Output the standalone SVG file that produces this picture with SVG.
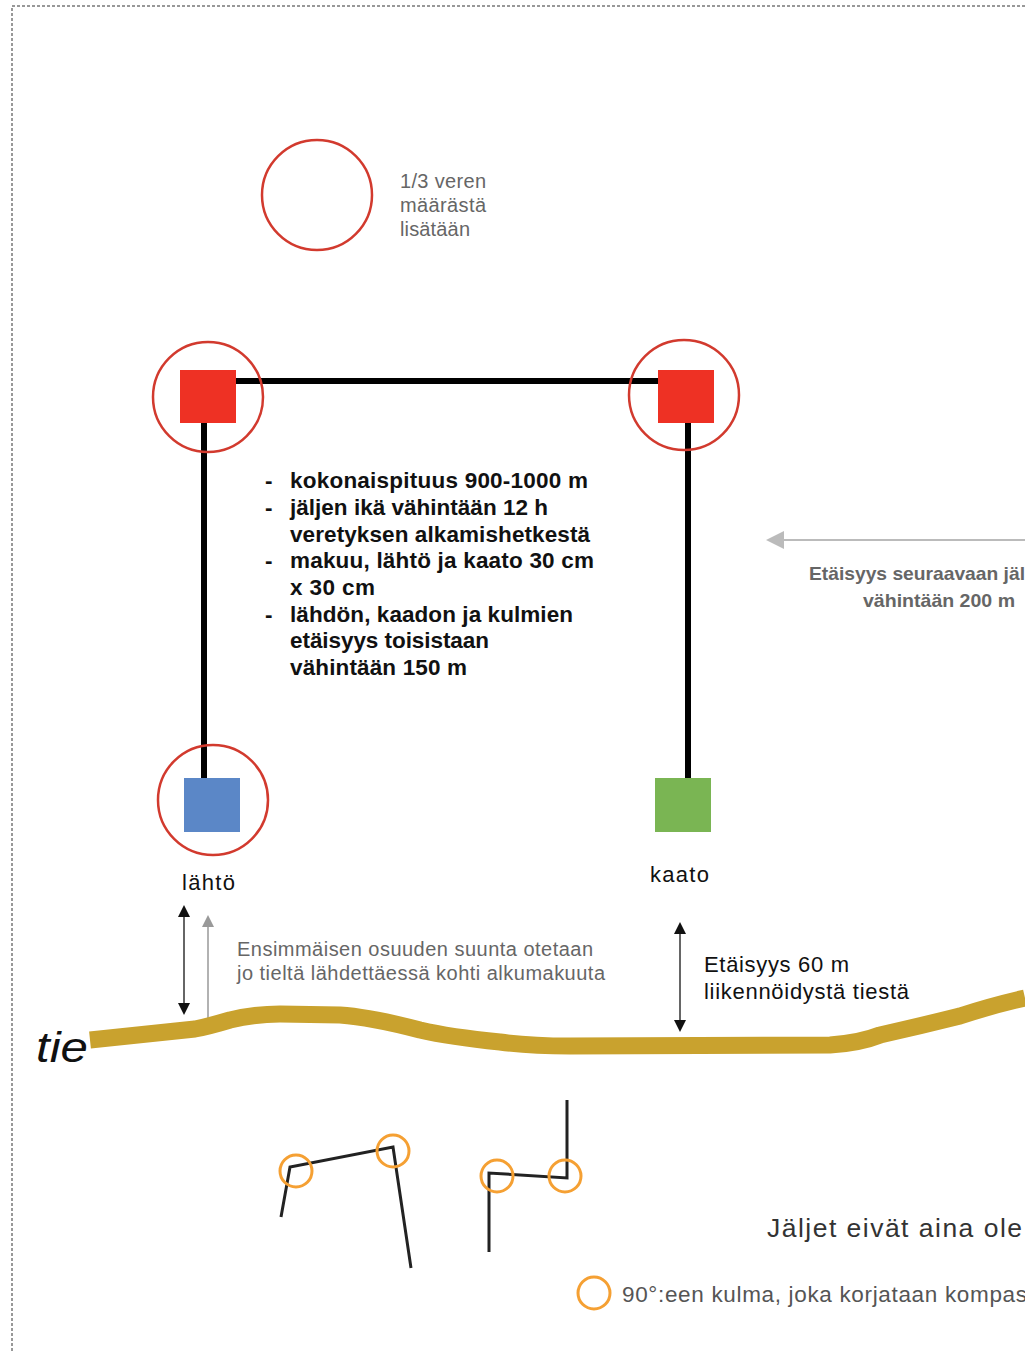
<svg xmlns="http://www.w3.org/2000/svg" width="1025" height="1351" viewBox="0 0 1025 1351">
<style>
.ring{fill:none;stroke:#d23a2e;stroke-width:2.5}
.oring{fill:none;stroke:#f5a033;stroke-width:3}
.trk{fill:none;stroke:#000;stroke-width:6}
.thin{fill:none;stroke:#222;stroke-width:3;stroke-linejoin:miter}
.b{font-family:"Liberation Sans",Arial,sans-serif;font-size:22.5px;font-weight:bold;fill:#111}
.g{font-family:"Liberation Sans",Arial,sans-serif;font-size:20px;fill:#666}
.n{font-family:"Liberation Sans",Arial,sans-serif;font-size:22px;fill:#111}
</style>
<defs>
<marker id="ah" viewBox="0 0 10 10" refX="5" refY="5" markerWidth="8" markerHeight="8" orient="auto-start-reverse"><path d="M0,0L10,5L0,10z" fill="#111"/></marker>
<marker id="ahg" viewBox="0 0 10 10" refX="5" refY="5" markerWidth="8" markerHeight="8" orient="auto-start-reverse"><path d="M0,0L10,5L0,10z" fill="#999"/></marker>
<marker id="ahl" viewBox="0 0 10 10" refX="5" refY="5" markerWidth="9" markerHeight="9" orient="auto-start-reverse"><path d="M0,0L10,5L0,10z" fill="#bbb"/></marker>
</defs>
<rect x="12" y="6" width="1100" height="1400" fill="none" stroke="#333" stroke-width="1" stroke-dasharray="3,2"/>

<g id="blood-circle">
<circle cx="317" cy="195" r="55" class="ring"/>
<text class="g" x="400" y="188" textLength="86">1/3 veren</text>
<text class="g" x="400" y="212" textLength="86">määrästä</text>
<text class="g" x="400" y="236" textLength="70">lisätään</text>
</g>

<g id="connectors">
<line class="trk" x1="236" y1="381" x2="658" y2="381"/>
<line class="trk" x1="204" y1="423" x2="204" y2="778"/>
<line class="trk" x1="688" y1="423" x2="688" y2="778"/>
<line x1="184" y1="911" x2="184" y2="1009" stroke="#333" stroke-width="1.5" marker-start="url(#ah)" marker-end="url(#ah)"/>
<line x1="208" y1="921" x2="208" y2="1022" stroke="#999" stroke-width="1.5" marker-start="url(#ahg)"/>
<line x1="680" y1="928" x2="680" y2="1026" stroke="#333" stroke-width="1.5" marker-start="url(#ah)" marker-end="url(#ah)"/>
<line x1="775" y1="540" x2="1025" y2="540" stroke="#bbb" stroke-width="2" marker-start="url(#ahl)"/>
</g>

<g id="corner-left">
<circle cx="208" cy="397" r="55" class="ring"/>
<rect x="180" y="370" width="56" height="53" fill="#ee3124"/>
</g>
<g id="corner-right">
<circle cx="684" cy="395" r="55" class="ring"/>
<rect x="658" y="370" width="56" height="53" fill="#ee3124"/>
</g>
<g id="start">
<circle cx="213" cy="800" r="55" class="ring"/>
<rect x="184" y="778" width="56" height="54" fill="#5b87c7"/>
<text class="n" x="182" y="890" textLength="53">lähtö</text>
</g>
<g id="end">
<rect x="655" y="778" width="56" height="54" fill="#7ab553"/>
<text class="n" x="650" y="882" textLength="59">kaato</text>
</g>

<g id="rules">
<text class="b" x="265" y="488">-</text><text class="b" x="290" y="488" textLength="298">kokonaispituus 900-1000 m</text>
<text class="b" x="265" y="515">-</text><text class="b" x="290" y="515" textLength="258">jäljen ikä vähintään 12 h</text>
<text class="b" x="290" y="542" textLength="300">veretyksen alkamishetkestä</text>
<text class="b" x="265" y="568">-</text><text class="b" x="290" y="568" textLength="304">makuu, lähtö ja kaato 30 cm</text>
<text class="b" x="290" y="595" textLength="85">x 30 cm</text>
<text class="b" x="265" y="622">-</text><text class="b" x="290" y="622" textLength="283">lähdön, kaadon ja kulmien</text>
<text class="b" x="290" y="648" textLength="199">etäisyys toisistaan</text>
<text class="b" x="290" y="675" textLength="177">vähintään 150 m</text>
</g>

<g id="next-track">
<text x="809" y="580" font-family="Liberation Sans,Arial,sans-serif" font-size="19" font-weight="bold" fill="#666" textLength="216" lengthAdjust="spacingAndGlyphs">Etäisyys seuraavaan jäl</text>
<text x="863" y="607" font-family="Liberation Sans,Arial,sans-serif" font-size="19" font-weight="bold" fill="#666" textLength="152" lengthAdjust="spacingAndGlyphs">vähintään 200 m</text>
</g>

<g id="road">
<path d="M90,1040 L195,1029 Q210,1026 230,1020 Q255,1014 280,1014 L340,1015 Q370,1017 420,1030 Q450,1037 500,1042 Q530,1046 570,1046 L830,1045 Q860,1043 880,1035 Q920,1026 960,1016 Q990,1006 1025,998" fill="none" stroke="#c9a22e" stroke-width="17" stroke-linejoin="round"/>
<text x="36" y="1062" font-family="Liberation Sans,Arial,sans-serif" font-size="42" font-style="italic" fill="#111" textLength="52" lengthAdjust="spacingAndGlyphs">tie</text>
</g>

<g id="road-notes">
<text class="g" x="237" y="956" textLength="356">Ensimmäisen osuuden suunta otetaan</text>
<text class="g" x="237" y="980" textLength="368">jo tieltä lähdettäessä kohti alkumakuuta</text>
<text class="n" x="704" y="972" textLength="145">Etäisyys 60 m</text>
<text class="n" x="704" y="999" textLength="205">liikennöidystä tiestä</text>
</g>

<g id="examples">
<polyline class="thin" points="281,1217 290,1167 393,1147 411,1268"/>
<circle cx="296" cy="1171" r="16" class="oring"/>
<circle cx="393" cy="1151" r="16" class="oring"/>
<polyline class="thin" points="489,1252 489,1173 567,1178 567,1100"/>
<circle cx="497" cy="1176" r="16" class="oring"/>
<circle cx="565" cy="1176" r="16" class="oring"/>
</g>

<g id="legend">
<text x="767" y="1237" font-family="Liberation Sans,Arial,sans-serif" font-size="26.5" fill="#333" textLength="255">Jäljet eivät aina ole</text>
<circle cx="594" cy="1293" r="16" class="oring"/>
<text x="622" y="1302" font-family="Liberation Sans,Arial,sans-serif" font-size="22.5" fill="#555" textLength="405">90°:een kulma, joka korjataan kompas</text>
</g>
</svg>
